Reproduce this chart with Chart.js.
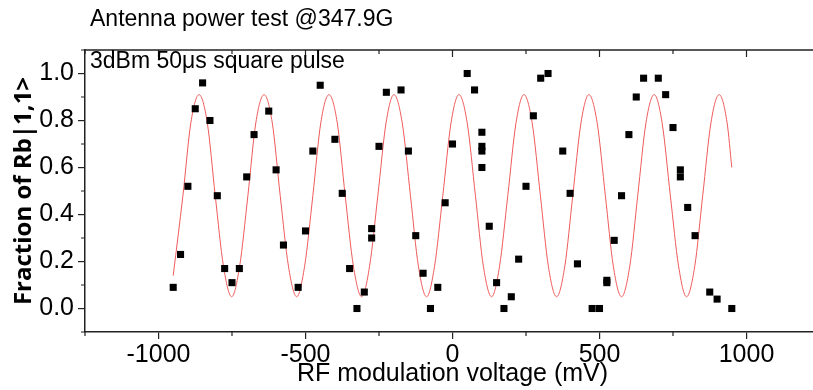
<!DOCTYPE html>
<html>
<head>
<meta charset="utf-8">
<script src="https://cdn.jsdelivr.net/npm/chart.js@4"></script>
<style>
  html, body { margin: 0; padding: 0; background: #fff; overflow: hidden; }
  #wrap { width: 828px; height: 390px; }
</style>
</head>
<body>
<div id="wrap"><canvas id="chart"></canvas></div>
<script>
// measured points (RF modulation voltage in mV, fraction of Rb |1,1>)
var voltage = [-950, -925, -900, -875, -850, -825, -800, -775, -750, -725, -700, -675,
    -625, -600, -575, -525, -500, -475, -450, -400, -375, -350, -325, -300, -275, -275,
    -250, -225, -175, -150, -125, -100, -75, -50, -25, 0, 50, 75, 100, 100, 100, 100,
    125, 150, 175, 200, 225, 250, 275, 300, 325, 375, 400, 425, 475, 500, 525, 525,
    550, 575, 600, 625, 650, 700, 725, 750, 775, 775, 800, 825, 875, 900, 950];
var fraction = [0.09, 0.23, 0.52, 0.85, 0.96, 0.80, 0.48, 0.17, 0.11, 0.17, 0.56, 0.74,
    0.84, 0.59, 0.27, 0.09, 0.33, 0.67, 0.95, 0.72, 0.49, 0.17, 0.00, 0.07, 0.30, 0.34,
    0.69, 0.92, 0.93, 0.67, 0.31, 0.15, 0.00, 0.09, 0.45, 0.70, 1.00, 0.93, 0.75, 0.69, 0.67, 0.60,
    0.35, 0.11, 0.00, 0.05, 0.21, 0.52, 0.82, 0.98, 1.00, 0.67, 0.49, 0.19, 0.00, 0.00, 0.12, 0.11,
    0.29, 0.48, 0.74, 0.90, 0.98, 0.98, 0.91, 0.77, 0.59, 0.56, 0.43, 0.31, 0.07, 0.04, 0.00];

// fit curve
var fitVoltage = [-950, -917, -890, -862, -834, -807, -779, -751, -724, -696, -669,
    -641, -613, -586, -558, -530, -503, -475, -448, -420, -392, -365, -337, -309, -282,
    -254, -226, -199, -171, -143, -116, -88, -61, -33, -5, 22, 50, 78, 105, 133, 160,
    188, 216, 243, 271, 299, 326, 354, 382, 409, 437, 464, 492, 520, 547, 575, 603,
    630, 658, 686, 713, 741, 769, 796, 824, 851, 879, 907, 934, 950];
var fitFraction = [0.14, 0.48, 0.79, 0.91, 0.79, 0.48, 0.18, 0.05, 0.18, 0.48, 0.79,
    0.91, 0.79, 0.48, 0.18, 0.05, 0.18, 0.48, 0.79, 0.91, 0.79, 0.48, 0.18, 0.05, 0.18,
    0.48, 0.79, 0.91, 0.79, 0.48, 0.18, 0.05, 0.18, 0.48, 0.79, 0.91, 0.79, 0.48, 0.18, 0.05, 0.18,
    0.48, 0.79, 0.91, 0.79, 0.48, 0.18, 0.05, 0.18, 0.48, 0.79, 0.91, 0.79, 0.48, 0.18, 0.05, 0.18,
    0.48, 0.79, 0.91, 0.79, 0.48, 0.18, 0.05, 0.18, 0.48, 0.79, 0.91, 0.79, 0.60];

var xTicks = [-1000, -500, 0, 500, 1000];
var xMinorTicks = [-1250, -750, -250, 250, 750, 1250];
var yTicks = [0, 0.2, 0.4, 0.6, 0.8, 1.0];
var yMinorTicks = [-0.1, 0.1, 0.3, 0.5, 0.7, 0.9, 1.1];

var titleText = 'Antenna power test @347.9G';
var subtitleText = '3dBm 50\u03bcs square pulse';

var axisColor = '#222';

function toPoints(xs, ys) {
    return xs.map(function (x, i) { return { x: x, y: ys[i] }; });
}

// box on top/right, minor ticks and the two text lines
var framePlugin = {
    id: 'frame',
    afterDraw: function (chart) {
        var ctx = chart.ctx;
        var a = chart.chartArea;
        var xs = chart.scales.x, ys = chart.scales.y;
        ctx.save();
        ctx.strokeStyle = axisColor;
        ctx.lineWidth = 1.5;
        ctx.beginPath();
        ctx.moveTo(a.left, a.top);
        ctx.lineTo(a.right, a.top);
        ctx.lineTo(a.right, a.bottom);
        ctx.stroke();

        ctx.lineWidth = 1.2;
        ctx.beginPath();
        xTicks.forEach(function (v) {
            var px = xs.getPixelForValue(v);
            ctx.moveTo(px, a.top); ctx.lineTo(px, a.top + 7);
        });
        xMinorTicks.forEach(function (v) {
            var px = xs.getPixelForValue(v);
            ctx.moveTo(px, a.top); ctx.lineTo(px, a.top + 4);
            ctx.moveTo(px, a.bottom); ctx.lineTo(px, a.bottom + 4);
        });
        yTicks.forEach(function (v) {
            var py = ys.getPixelForValue(v);
            ctx.moveTo(a.right, py); ctx.lineTo(a.right - 7, py);
        });
        yMinorTicks.forEach(function (v) {
            var py = ys.getPixelForValue(v);
            ctx.moveTo(a.right, py); ctx.lineTo(a.right - 4, py);
            ctx.moveTo(a.left, py); ctx.lineTo(a.left - 4, py);
        });
        ctx.stroke();

        ctx.fillStyle = '#000';
        ctx.font = "23px 'Liberation Sans', Arial, sans-serif";
        ctx.textAlign = 'left';
        ctx.textBaseline = 'alphabetic';
        ctx.fillText(titleText, 90, 26);
        ctx.fillText(subtitleText, 90, 68);
        ctx.restore();
    }
};

Chart.defaults.font.family = "'Liberation Sans', Arial, sans-serif";
Chart.defaults.color = '#000';

var ctx = document.getElementById('chart').getContext('2d');
var chart = new Chart(ctx, {
    type: 'scatter',
    data: {
        datasets: [{
            label: 'data',
            data: toPoints(voltage, fraction),
            pointStyle: 'rect',
            pointRadius: 5,
            pointBackgroundColor: '#000',
            pointBorderWidth: 0,
            order: 0
        }, {
            label: 'fit',
            type: 'line',
            data: toPoints(fitVoltage, fitFraction),
            borderColor: '#ef5a5a',
            borderWidth: 1,
            pointRadius: 0,
            fill: false,
            cubicInterpolationMode: 'monotone',
            order: 1
        }]
    },
    options: {
        responsive: true,
        maintainAspectRatio: false,
        animation: false,
        layout: { padding: { top: 50, right: 8, left: 0, bottom: 0 } },
        scales: {
            x: {
                type: 'linear',
                min: -1250,
                max: 1250,
                afterBuildTicks: function (scale) {
                    scale.ticks = xTicks.map(function (v) { return { value: v }; });
                },
                afterFit: function (scale) { scale.height = 58; },
                grid: { drawOnChartArea: false, drawTicks: true, tickLength: 7, color: axisColor, lineWidth: 1.2 },
                border: { display: true, color: axisColor, width: 1.5 },
                ticks: {
                    font: { size: 25 },
                    padding: 1,
                    maxRotation: 0,
                    callback: function (value) { return String(value); }
                },
                title: {
                    display: true,
                    text: 'RF modulation voltage (mV)',
                    font: { size: 25 },
                    padding: { top: 0, bottom: 1 }
                }
            },
            y: {
                min: -0.1,
                max: 1.1,
                afterBuildTicks: function (scale) {
                    scale.ticks = yTicks.map(function (v) { return { value: v }; });
                },
                afterFit: function (scale) { scale.width = 85; },
                grid: { drawOnChartArea: false, drawTicks: true, tickLength: 7, color: axisColor, lineWidth: 1.2 },
                border: { display: true, color: axisColor, width: 1.5 },
                ticks: {
                    font: { size: 25 },
                    padding: 4,
                    callback: function (value) { return value.toFixed(1); }
                },
                title: {
                    display: true,
                    text: 'Fraction of Rb|1,1>',
                    font: { family: "'Open Sans', sans-serif", size: 24, weight: 'bold' },
                    padding: { top: 10, bottom: 0 }
                }
            }
        },
        plugins: {
            legend: { display: false },
            tooltip: { enabled: false }
        }
    },
    plugins: [framePlugin]
});
</script>
</body>
</html>
